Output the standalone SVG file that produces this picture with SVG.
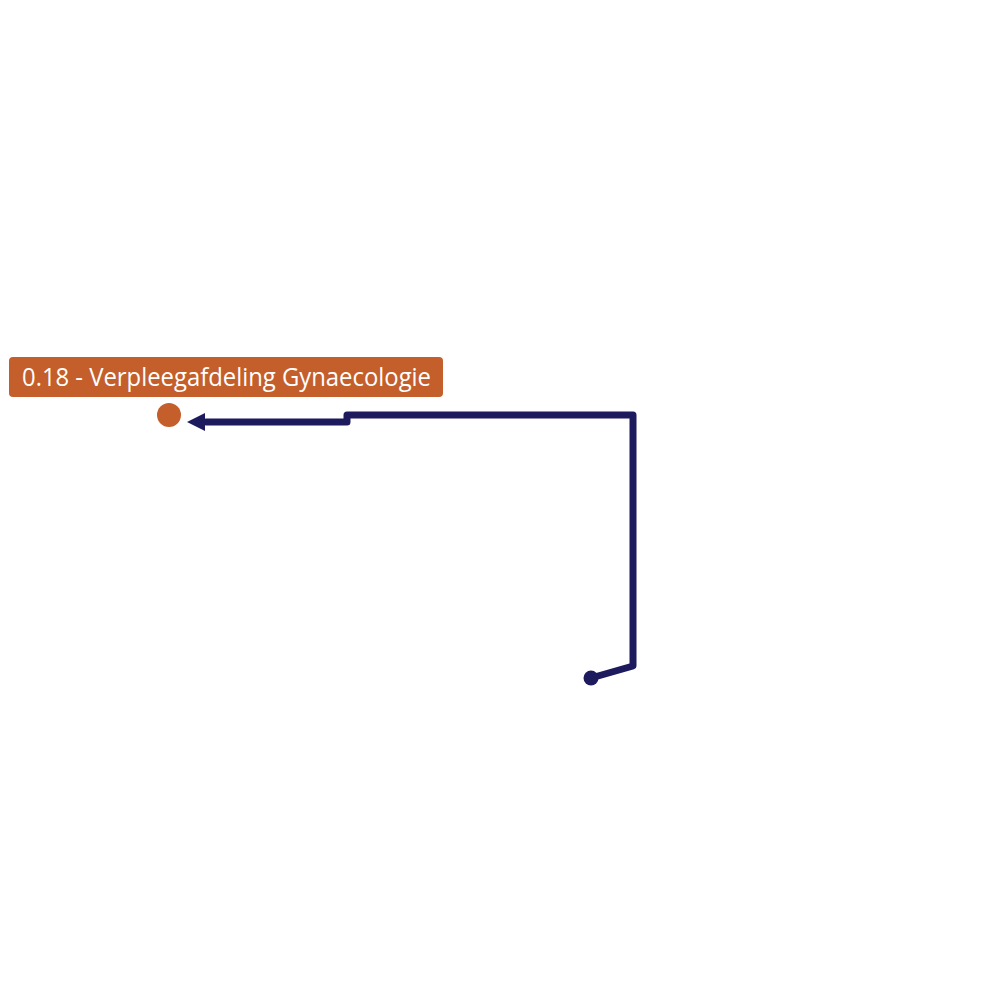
<svg xmlns="http://www.w3.org/2000/svg" width="1001" height="987" viewBox="0 0 1001 987">
<style>
.lbl{fill:#C45E2A}
.lbltxt{fill:#fff;font-family:"Open Sans","DejaVu Sans",sans-serif;font-size:25px;font-weight:500}
.conn{fill:none;stroke:#1E1A5E;stroke-width:7;stroke-linejoin:round;stroke-linecap:round}
</style>
<rect width="1001" height="987" fill="#fff"/>
<g id="connectors">
<path class="conn" d="M591,678 L633,666 L633,415 L347,415 L347,422 L206,422"/>
<path d="M205,413 L187,422 L205,431 Z" fill="#1E1A5E"/>
<circle cx="591" cy="678" r="7.5" fill="#1E1A5E"/>
</g>
<g id="node-0-18">
<rect class="lbl" x="9" y="357" width="434" height="40" rx="4"/>
<text class="lbltxt" x="22" y="386" textLength="409" lengthAdjust="spacingAndGlyphs">0.18 - Verpleegafdeling Gynaecologie</text>
<circle cx="169" cy="415" r="12" fill="#C45E2A"/>
</g>
</svg>
